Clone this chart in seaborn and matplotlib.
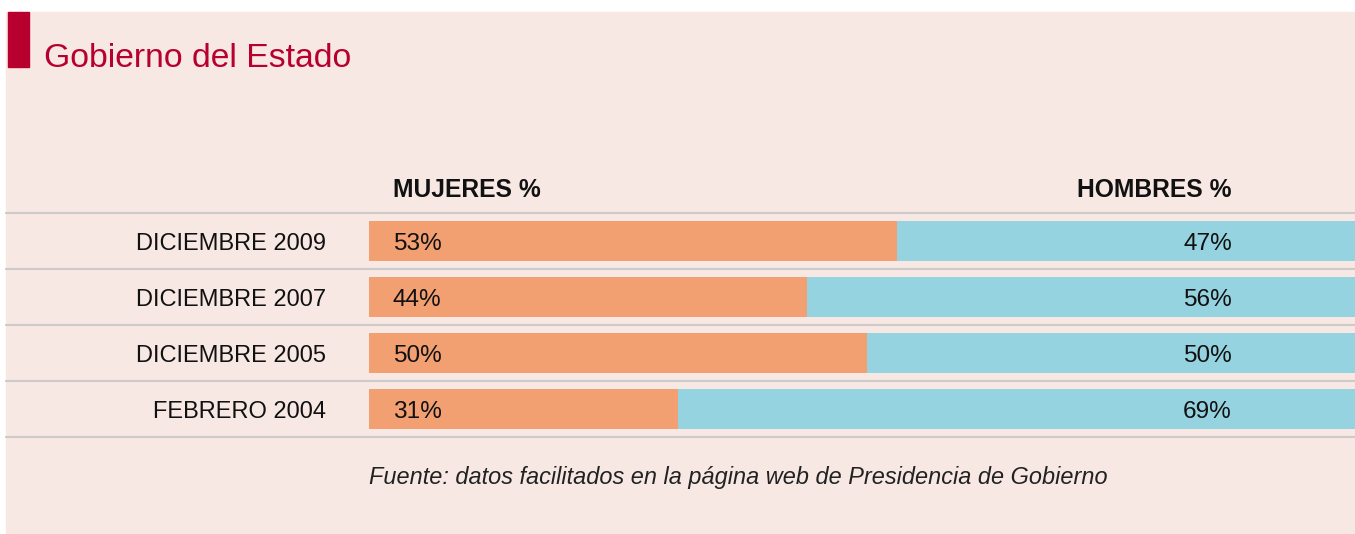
import matplotlib
matplotlib.use("Agg")
import matplotlib.pyplot as plt
from matplotlib.patches import Rectangle
import seaborn as sns

periodos = ["DICIEMBRE 2009", "DICIEMBRE 2007", "DICIEMBRE 2005", "FEBRERO 2004"]
mujeres = [53, 44, 50, 31]
hombres = [47, 56, 50, 69]

ORANGE = "#F2A072"
BLUE = "#96D3E0"
BG = "#F7E8E4"
RED = "#B8002F"
GRID = "#CDCACA"
INK = "#111111"

W, H = 1355, 534
PX = 0.72  # points per pixel at dpi 100
AX_L, AX_W = 369, 996  # 100% spans 996px, runs a little past the right edge


def plot_gobierno():
    sns.set_theme(style="white")
    plt.rcParams["font.family"] = ["Liberation Sans", "DejaVu Sans"]

    fig = plt.figure(figsize=(W / 100, H / 100), dpi=100)
    fig.patch.set_facecolor("white")

    # panel background + red marker
    fig.patches.append(Rectangle((6 / W, 0), 1 - 6 / W, (H - 12) / H,
                                 transform=fig.transFigure, color=BG, zorder=-10))
    fig.patches.append(Rectangle((8 / W, (H - 67) / H), 21 / W, 55 / H,
                                 transform=fig.transFigure, color=RED, zorder=-5))
    fig.text(44 / W, (H - 67) / H, "Gobierno del Estado", fontsize=24.3,
             color=RED, va="baseline", ha="left")

    # axes: 4 rows of 56px from y=213 to y=437
    ax = fig.add_axes([AX_L / W, (H - 437) / H, AX_W / W, 224 / H])
    ax.set_facecolor("none")

    totales = [m + h for m, h in zip(mujeres, hombres)]
    sns.barplot(x=totales, y=periodos, color=BLUE, orient="h",
                width=0.73, saturation=1, linewidth=0, ax=ax)
    sns.barplot(x=mujeres, y=periodos, color=ORANGE, orient="h",
                width=0.73, saturation=1, linewidth=0, ax=ax)

    ax.set_xlim(0, 100)
    ax.set_ylim(3.5, -0.5)
    ax.set_xticks([])
    ax.set_yticks([])
    ax.set_xlabel("")
    ax.set_ylabel("")
    for s in ax.spines.values():
        s.set_visible(False)

    # separators extending to the panel edge
    x0 = (6 - AX_L) / AX_W
    for yl in [-0.5, 0.5, 1.5, 2.5, 3.5]:
        ax.axhline(yl, xmin=x0, xmax=1, color=GRID, lw=1.5, clip_on=False, zorder=0)

    ytr = ("axes fraction", "data")
    right_off = (1232 - (AX_L + AX_W)) * PX
    # row labels and value labels
    for i, (p, m, h) in enumerate(zip(periodos, mujeres, hombres)):
        ax.annotate(p, xy=(0, i), xycoords=ytr,
                    xytext=(-43 * PX, -3.5 * PX), textcoords="offset points",
                    ha="right", va="center", fontsize=17.0, color=INK,
                    annotation_clip=False)
        ax.annotate(f"{m}%", xy=(0, i), xycoords=ytr,
                    xytext=(24 * PX, -3.5 * PX), textcoords="offset points",
                    ha="left", va="center", fontsize=17.6, color=INK)
        ax.annotate(f"{h}%", xy=(1, i), xycoords=ytr,
                    xytext=(right_off, -3.5 * PX), textcoords="offset points",
                    ha="right", va="center", fontsize=17.6, color=INK)

    # column headers
    ax.annotate("MUJERES %", xy=(0, -0.95), xycoords=ytr,
                xytext=(24 * PX, -2.5 * PX), textcoords="offset points",
                ha="left", va="center", fontsize=17.7, fontweight="bold",
                color=INK, annotation_clip=False)
    ax.annotate("HOMBRES %", xy=(1, -0.95), xycoords=ytr,
                xytext=(right_off, -2.5 * PX), textcoords="offset points",
                ha="right", va="center", fontsize=17.7, fontweight="bold",
                color=INK, annotation_clip=False)

    # source
    ax.annotate("Fuente: datos facilitados en la página web de Presidencia de Gobierno",
                xy=(0, 4.18), xycoords=ytr, xytext=(0, -2 * PX),
                textcoords="offset points", ha="left", va="center",
                fontsize=16.9, style="italic", color="#222222",
                annotation_clip=False)

    fig.savefig("out.png", dpi=100, facecolor=fig.get_facecolor())


if __name__ == "__main__":
    plot_gobierno()
